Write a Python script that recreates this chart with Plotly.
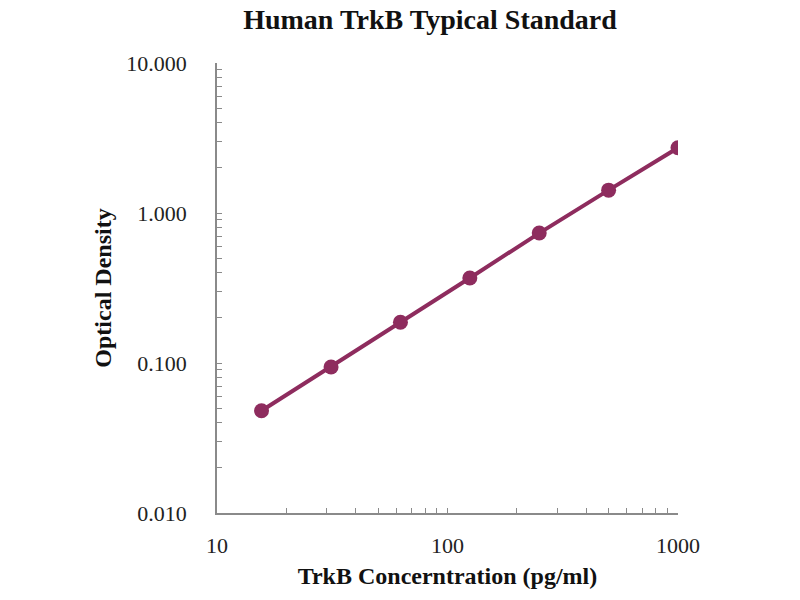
import plotly.graph_objects as go

concentration = [15.6, 31.25, 62.5, 125, 250, 500, 1000]
optical_density = [0.048, 0.094, 0.187, 0.369, 0.735, 1.42, 2.72]

y_tick_vals = [0.01, 0.1, 1, 10]
y_tick_text = ["0.010", "0.100", "1.000", "10.000"]
x_tick_vals = [10, 100, 1000]
x_tick_text = ["10", "100", "1000"]

color = "#8E2C5E"
font_family = "Liberation Serif, Times New Roman, serif"

fig = go.Figure()
fig.add_trace(go.Scatter(
    x=concentration, y=optical_density, mode="lines+markers",
    line=dict(color=color, width=4),
    marker=dict(color=color, size=15),
    showlegend=False,
))

axis_common = dict(
    type="log", showgrid=False, zeroline=False, showline=True,
    linecolor="#8a8a8a", linewidth=1.5,
    ticks="inside", ticklen=5, tickcolor="#8a8a8a", tickwidth=1,
    tickfont=dict(family=font_family, size=22, color="#222"),
    minor=dict(ticks="inside", ticklen=5, tickcolor="#8a8a8a", dtick="D1", showgrid=False),
)

fig.update_layout(
    width=800, height=600,
    paper_bgcolor="white", plot_bgcolor="white",
    margin=dict(l=217, r=122, t=63, b=87),
    title=dict(text="<b>Human TrkB Typical Standard</b>",
               font=dict(family=font_family, size=28, color="#111"),
               x=430/800, xanchor="center", xref="container",
               y=1-19/600, yanchor="middle", yref="container"),
    xaxis=dict(axis_common, range=[1, 3], tickvals=x_tick_vals, ticktext=x_tick_text,
               ticklabelstandoff=12,
               title=dict(text="<b>TrkB Concerntration (pg/ml)</b>",
                          font=dict(family=font_family, size=24, color="#111"),
                          standoff=10)),
    yaxis=dict(axis_common, range=[-2, 1], tickvals=y_tick_vals, ticktext=y_tick_text,
               ticklabelstandoff=24,
               title=dict(text="<b>Optical Density</b>",
                          font=dict(family=font_family, size=24, color="#111"),
                          standoff=8)),
)

fig.write_html("out.html", config={"displayModeBar": False},
               post_script="document.body.style.margin='0';")
